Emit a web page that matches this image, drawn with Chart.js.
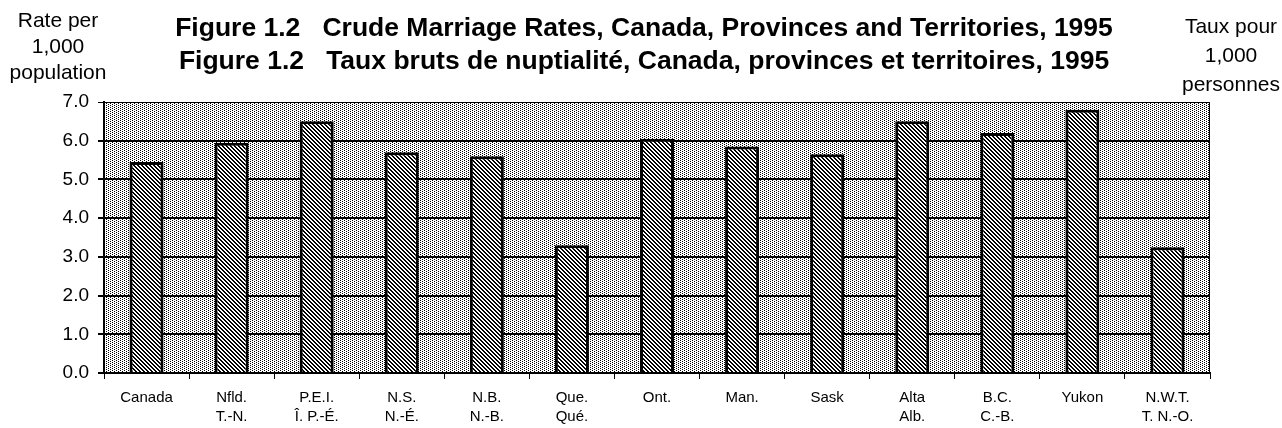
<!DOCTYPE html>
<html>
<head>
<meta charset="utf-8">
<script src="https://cdn.jsdelivr.net/npm/chart.js@4"></script>
<style>
    html, body { margin: 0; padding: 0; background: #ffffff; }
    canvas { display: block; }
</style>
</head>
<body>
<canvas id="marriage-chart" width="1282" height="428"></canvas>
<script>
"use strict";

// Data
const provinces = ['Canada', 'Nfld.', 'P.E.I.', 'N.S.', 'N.B.', 'Que.', 'Ont.', 'Man.', 'Sask', 'Alta', 'B.C.', 'Yukon', 'N.W.T.'];
const provincesFr = ['', 'T.-N.', 'Î. P.-É.', 'N.-É.', 'N.-B.', 'Qué.', '', '', '', 'Alb.', 'C.-B.', '', 'T. N.-O.'];
const rates = [5.45, 5.95, 6.5, 5.7, 5.6, 3.3, 6.05, 5.85, 5.65, 6.5, 6.2, 6.8, 3.25];
const yTicks = [0, 1, 2, 3, 4, 5, 6, 7];

const titleLines = [
    'Figure 1.2   Crude Marriage Rates, Canada, Provinces and Territories, 1995',
    'Figure 1.2   Taux bruts de nuptialité, Canada, provinces et territoires, 1995'
];
const leftUnit = ['Rate per', '1,000', 'population'];
const rightUnit = ['Taux pour', '1,000', 'personnes'];

const FONT = 'Arial, "Liberation Sans", Helvetica, sans-serif';

/**
 * Small bitmap patterns, like the old print screens
 */
function makePattern(size, paint) {
    const c = document.createElement('canvas');
    c.width = size;
    c.height = size;
    const g = c.getContext('2d');
    g.fillStyle = '#ffffff';
    g.fillRect(0, 0, size, size);
    g.fillStyle = '#000000';
    for (let y = 0; y < size; y++) {
        for (let x = 0; x < size; x++) {
            if (paint(x, y)) g.fillRect(x, y, 1, 1);
        }
    }
    return document.getElementById('marriage-chart').getContext('2d').createPattern(c, 'repeat');
}

// dotted screen for the plot background, diagonal hatch for the bars
const dotPattern = makePattern(4, (x, y) => x === (y % 2 === 0 ? 0 : 2));
const hatchPattern = makePattern(4, (x, y) => ((x - y + 8) % 4) < 2);

const figurePlugin = {
    id: 'figureText',
    beforeDraw(chart) {
        const { ctx, chartArea } = chart;
        ctx.save();
        ctx.fillStyle = dotPattern;
        ctx.fillRect(chartArea.left, chartArea.top, chartArea.right - chartArea.left, chartArea.bottom - chartArea.top);
        ctx.restore();
    },
    afterDraw(chart) {
        const { ctx, chartArea } = chart;
        ctx.save();
        // right frame line
        ctx.strokeStyle = '#000000';
        ctx.lineWidth = 1;
        ctx.beginPath();
        ctx.moveTo(chartArea.right - 0.5, chartArea.top);
        ctx.lineTo(chartArea.right - 0.5, chartArea.bottom);
        ctx.stroke();

        ctx.fillStyle = '#000000';
        ctx.textAlign = 'center';
        ctx.textBaseline = 'middle';
        ctx.font = 'bold 26.5px ' + FONT;
        ctx.fillText(titleLines[0], 644, 29);
        ctx.fillText(titleLines[1], 644, 62);

        ctx.font = '21px ' + FONT;
        [21, 47, 73].forEach((y, i) => ctx.fillText(leftUnit[i], 58, y));
        [27, 56, 85].forEach((y, i) => ctx.fillText(rightUnit[i], 1231, y));
        ctx.restore();
    }
};

const labels = provinces.map((name, i) => provincesFr[i] ? [name, provincesFr[i]] : name);

new Chart(document.getElementById('marriage-chart'), {
    type: 'bar',
    data: {
        labels: labels,
        datasets: [{
            data: rates,
            backgroundColor: hatchPattern,
            borderColor: '#000000',
            borderWidth: 3,
            borderSkipped: 'bottom',
            barPercentage: 0.4,
            categoryPercentage: 1.0
        }]
    },
    options: {
        responsive: false,
        animation: false,
        devicePixelRatio: 1,
        layout: { padding: { top: 102, right: 72, bottom: 0, left: 0 } },
        plugins: {
            legend: { display: false },
            title: { display: false },
            tooltip: { enabled: false }
        },
        scales: {
            x: {
                offset: true,
                grid: {
                    offset: true,
                    drawOnChartArea: false,
                    drawTicks: true,
                    tickLength: 6,
                    color: '#000000',
                    lineWidth: 1
                },
                border: { display: true, color: '#000000', width: 2 },
                ticks: {
                    color: '#000000',
                    font: { family: FONT, size: 15, lineHeight: 1.27 },
                    padding: 9,
                    maxRotation: 0,
                    autoSkip: false
                },
                afterFit: (scale) => { scale.height = 55; }
            },
            y: {
                min: 0,
                max: 7,
                afterBuildTicks: (scale) => { scale.ticks = yTicks.map(v => ({ value: v })); },
                grid: {
                    color: '#000000',
                    lineWidth: (c) => c.tick && c.tick.value === 7 ? 1 : 2,
                    tickLength: 6,
                    drawTicks: true
                },
                border: { display: true, color: '#000000', width: 2 },
                ticks: {
                    color: '#000000',
                    font: { family: FONT, size: 19 },
                    padding: 9,
                    callback: (value) => Number(value).toFixed(1)
                },
                afterFit: (scale) => { scale.width = 104; }
            }
        }
    },
    plugins: [figurePlugin]
});
</script>
</body>
</html>
